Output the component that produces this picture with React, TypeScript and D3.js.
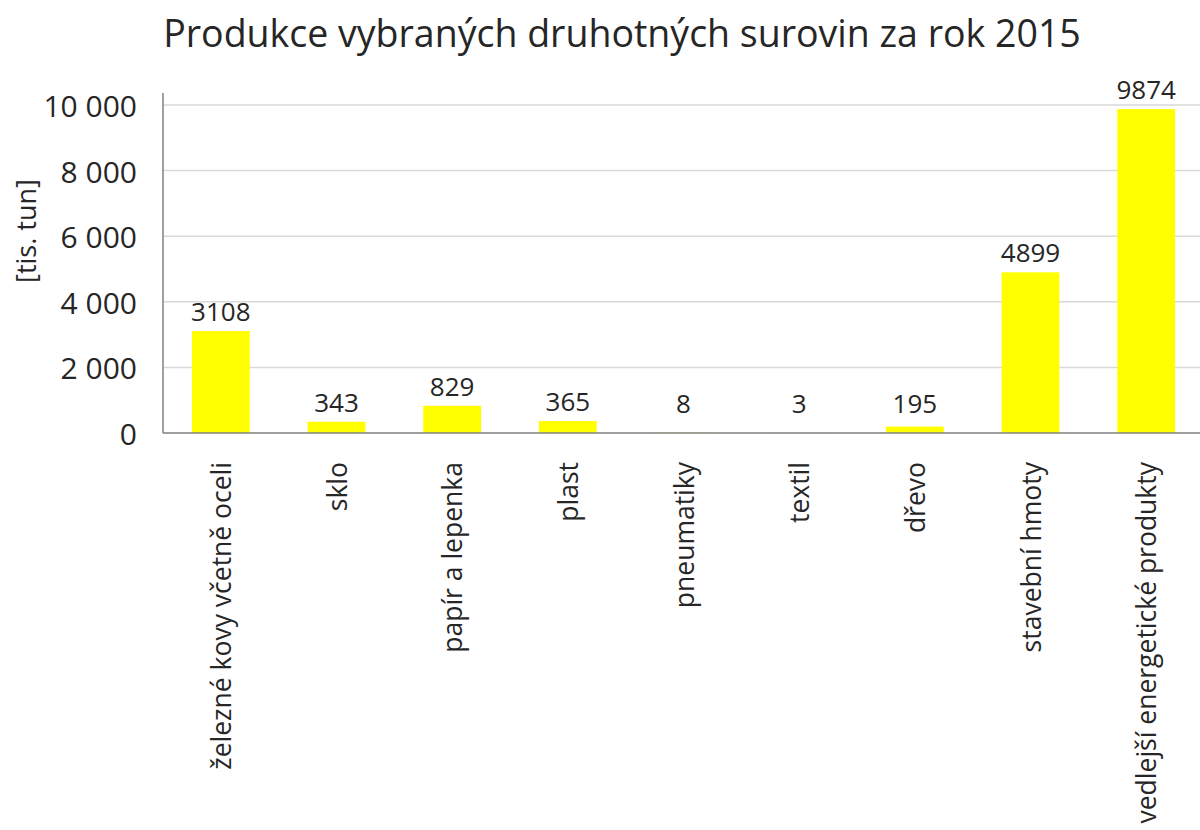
import React from 'react';
import * as d3 from 'd3';

const categories = [
  'železné kovy včetně oceli',
  'sklo',
  'papír a lepenka',
  'plast',
  'pneumatiky',
  'textil',
  'dřevo',
  'stavební hmoty',
  'vedlejší energetické produkty',
];
const values = [3108, 343, 829, 365, 8, 3, 195, 4899, 9874];
const yTicks = [0, 2000, 4000, 6000, 8000, 10000];
const title = 'Produkce vybraných druhotných surovin za rok 2015';
const yTitle = '[tis. tun]';

const FONT = '"Open Sans", sans-serif';
const INK = '#262626';

const fmt = (v: number) => d3.format(',')(v).replace(/,/g, ' ');

export default function App() {
  const width = 1200, height = 830;
  const left = 163, right = 1204, top = 93, bottom = 433;

  const x = d3.scaleBand<string>().domain(categories).range([left, right]).paddingInner(0.5).paddingOuter(0.25);
  const y = d3.scaleLinear().domain([0, 10000]).range([bottom, 105]);
  const cx = (c: string) => (x(c) as number) + x.bandwidth() / 2;

  return (
    <svg width={width} height={height} style={{ position: 'absolute', left: 0, top: 0, background: '#fff' }} fontFamily={FONT}>
      <text x={622} y={47} fontSize={37.5} textAnchor="middle" fill={INK}>{title}</text>

      {/* grid */}
      {yTicks.filter((t) => t > 0).map((t) => (
        <line key={t} x1={left} x2={width} y1={y(t)} y2={y(t)} stroke="#d9d9d9" strokeWidth={1.5} />
      ))}

      {/* bars */}
      {values.map((v, i) => (
        <rect key={i} x={x(categories[i])} y={y(v)} width={x.bandwidth()} height={y(0) - y(v)} fill="#ffff00" />
      ))}

      {/* axes */}
      <line x1={left} x2={left} y1={top} y2={bottom} stroke="#808080" strokeWidth={1.5} />
      <line x1={left} x2={width} y1={bottom} y2={bottom} stroke="#808080" strokeWidth={1.5} />

      {/* y tick labels */}
      {yTicks.map((t) => (
        <text key={t} x={137} y={y(t) + 12} fontSize={30} textAnchor="end" fill={INK}>{fmt(t)}</text>
      ))}

      {/* y title */}
      <text transform={`translate(36,231) rotate(-90)`} textAnchor="middle" fontSize={27} fill={INK}>
        {yTitle}
      </text>

      {/* value labels */}
      {values.map((v, i) => (
        <text key={i} x={cx(categories[i])} y={Math.min(y(v), bottom - 10) - 10} fontSize={26} textAnchor="middle" fill={INK}>
          {String(v)}
        </text>
      ))}

      {/* category labels */}
      {categories.map((c) => (
        <text
          key={c}
          transform={`translate(${cx(c) + 1},${bottom + 29}) rotate(-90)`}
          textAnchor="end"
          dy="0.35em"
          fontSize={26.5}
          fill={INK}
        >
          {c}
        </text>
      ))}
    </svg>
  );
}
